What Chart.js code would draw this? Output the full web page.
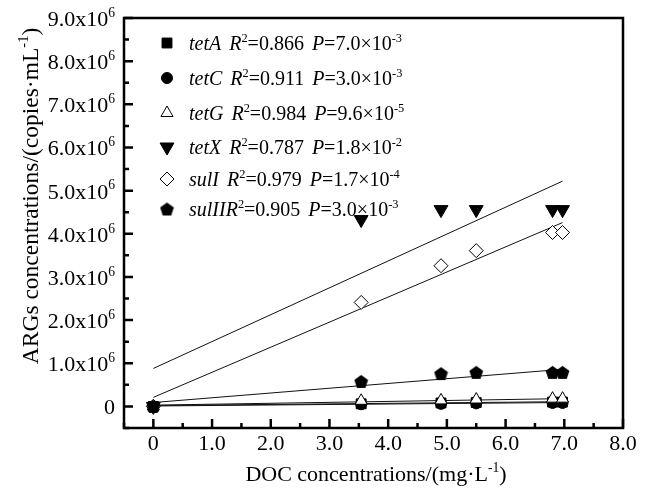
<!DOCTYPE html>
<html>
<head>
<meta charset="utf-8">
<script src="https://cdn.jsdelivr.net/npm/chart.js@4.4.1/dist/chart.umd.min.js"></script>
<style>
  html, body { margin: 0; padding: 0; background: #fff; }
  #wrap { width: 649px; height: 494px; }
</style>
</head>
<body>
<div id="wrap"><canvas id="chart"></canvas></div>
<script>
// DOC concentration (mg/L) of each sample
const DOC = [0, 3.54, 4.9, 5.5, 6.8, 6.97];

// ARG concentrations, in units of 10^6 copies/mL
const TET_A = [0, 0.06, 0.08, 0.09, 0.10, 0.10];
const TET_C = [0, 0.05, 0.06, 0.07, 0.08, 0.08];
const TET_G = [0, 0.13, 0.14, 0.16, 0.18, 0.18];
const TET_X = [0, 4.33, 4.56, 4.56, 4.56, 4.56];
const SUL_I = [0, 2.41, 3.26, 3.61, 4.03, 4.03];
const SUL_II = [0, 0.58, 0.76, 0.79, 0.79, 0.79];

// regression lines, read at their two ends
const FIT_X = [0, 6.97];
const FIT_TET_A = [0.02, 0.11];
const FIT_TET_C = [0.01, 0.09];
const FIT_TET_G = [0.03, 0.18];
const FIT_TET_X = [0.88, 5.22];
const FIT_SUL_I = [0.21, 4.26];
const FIT_SUL_II = [0.09, 0.86];

const GENES = ["tetA", "tetC", "tetG", "tetX", "sulI", "sulII"];
const R2 = ["0.866", "0.911", "0.984", "0.787", "0.979", "0.905"];
const P_MANT = ["7.0", "3.0", "9.6", "1.8", "1.7", "3.0"];
const P_EXP = ["-3", "-3", "-5", "-2", "-4", "-3"];

const X_TICKS = [0, 1, 2, 3, 4, 5, 6, 7, 8];
const X_TICK_LABELS = ["0", "1.0", "2.0", "3.0", "4.0", "5.0", "6.0", "7.0", "8.0"];
const Y_TICKS = [0, 1, 2, 3, 4, 5, 6, 7, 8, 9];
const Y_TICK_LABELS = ["0", "1.0", "2.0", "3.0", "4.0", "5.0", "6.0", "7.0", "8.0", "9.0"];

const SERIF = "'Liberation Serif', 'Times New Roman', serif";

function pentagonImage(size) {
  const c = document.createElement("canvas");
  c.width = size;
  c.height = size;
  const g = c.getContext("2d");
  const r = size / 2 - 0.3;
  g.beginPath();
  for (let i = 0; i < 5; i++) {
    const a = -Math.PI / 2 + (i * 2 * Math.PI) / 5;
    const px = size / 2 + r * Math.cos(a);
    const py = size / 2 + 0.8 + r * Math.sin(a);
    if (i === 0) g.moveTo(px, py);
    else g.lineTo(px, py);
  }
  g.closePath();
  g.fillStyle = "#000";
  g.fill();
  return c;
}
const PENTAGON = pentagonImage(15);

const MARKERS = [
  { pointStyle: "rect", radius: 7, rotation: 0, fill: "#000" },
  { pointStyle: "circle", radius: 5.5, rotation: 0, fill: "#000" },
  { pointStyle: "triangle", radius: 7, rotation: 0, fill: "#fff" },
  { pointStyle: "triangle", radius: 8, rotation: 180, fill: "#000" },
  { pointStyle: "rectRot", radius: 7, rotation: 0, fill: "#fff" },
  { pointStyle: PENTAGON, radius: 7, rotation: 0, fill: "#000" },
];

const SERIES = [TET_A, TET_C, TET_G, TET_X, SUL_I, SUL_II];
const FITS = [FIT_TET_A, FIT_TET_C, FIT_TET_G, FIT_TET_X, FIT_SUL_I, FIT_SUL_II];

const pts = (xs, ys) => xs.map((x, i) => ({ x: x, y: ys[i] }));

const datasets = [];
FITS.forEach((f, i) => {
  datasets.push({
    type: "line",
    label: GENES[i] + " fit",
    data: pts(FIT_X, f),
    borderColor: "#111",
    borderWidth: 1,
    pointRadius: 0,
    order: 10,
  });
});
SERIES.forEach((s, i) => {
  const m = MARKERS[i];
  datasets.push({
    type: "scatter",
    label: GENES[i],
    data: pts(DOC, s),
    pointStyle: m.pointStyle,
    pointRadius: m.radius,
    rotation: m.rotation,
    backgroundColor: m.fill,
    borderColor: "#000",
    borderWidth: 1,
    order: 6 - i,
  });
});

// text with superscripts and italics: parts = [{t, sup, it}]
function richWidth(ctx, parts, fs) {
  let w = 0;
  parts.forEach((p) => {
    const size = p.sup ? fs * 0.62 : fs;
    ctx.font = (p.it ? "italic " : "") + size + "px " + SERIF;
    w += ctx.measureText(p.t).width;
  });
  return w;
}
function drawRich(ctx, parts, x, y, fs) {
  let cx = x;
  parts.forEach((p) => {
    const size = p.sup ? fs * 0.62 : fs;
    ctx.font = (p.it ? "italic " : "") + size + "px " + SERIF;
    ctx.fillText(p.t, cx, p.sup ? y - fs * 0.42 : y);
    cx += ctx.measureText(p.t).width;
  });
  return cx;
}

const framePlugin = {
  id: "frame",
  afterDraw(chart) {
    const ctx = chart.ctx;
    const a = chart.chartArea;
    const xs = chart.scales.x;
    const ys = chart.scales.y;
    ctx.save();
    ctx.fillStyle = "#000";
    ctx.strokeStyle = "#000";
    ctx.textBaseline = "alphabetic";

    // frame
    ctx.lineWidth = 2.5;
    ctx.strokeRect(a.left, a.top, a.right - a.left, a.bottom - a.top);

    // inward ticks, major and half-step minor
    ctx.lineWidth = 2.5;
    ctx.beginPath();
    X_TICKS.forEach((v) => {
      const px = xs.getPixelForValue(v);
      ctx.moveTo(px, a.bottom);
      ctx.lineTo(px, a.bottom - 9);
      const pm = xs.getPixelForValue(v - 0.5);
      ctx.moveTo(pm, a.bottom);
      ctx.lineTo(pm, a.bottom - 5);
    });
    Y_TICKS.forEach((v) => {
      const py = ys.getPixelForValue(v);
      ctx.moveTo(a.left, py);
      ctx.lineTo(a.left + 9, py);
      const pm = ys.getPixelForValue(v - 0.5);
      ctx.moveTo(pm === pm ? a.left : a.left, pm);
      ctx.lineTo(a.left + 5, pm);
    });
    ctx.stroke();

    const fs = 22;
    // x tick labels
    ctx.font = fs + "px " + SERIF;
    ctx.textAlign = "center";
    X_TICKS.forEach((v, i) => {
      ctx.fillText(X_TICK_LABELS[i], xs.getPixelForValue(v), a.bottom + 22);
    });

    // y tick labels
    ctx.textAlign = "left";
    Y_TICKS.forEach((v, i) => {
      const parts = [{ t: Y_TICK_LABELS[i] }];
      if (v !== 0) {
        parts[0].t += "x10";
        parts.push({ t: "6", sup: true });
      }
      const w = richWidth(ctx, parts, fs);
      drawRich(ctx, parts, a.left - 9 - w, ys.getPixelForValue(v) + 8, fs);
    });

    // axis titles
    const xt = [{ t: "DOC concentrations/(mg\u00b7L" }, { t: "-1", sup: true }, { t: ")" }];
    const xw = richWidth(ctx, xt, 22);
    drawRich(ctx, xt, 376 - xw / 2, a.bottom + 53, 22);

    const yt = [{ t: "ARGs concentrations/(copies\u00b7mL" }, { t: "-1", sup: true }, { t: ")" }];
    const yw = richWidth(ctx, yt, 23.5);
    ctx.save();
    ctx.translate(38, 196);
    ctx.rotate(-Math.PI / 2);
    drawRich(ctx, yt, -yw / 2, 0, 23.5);
    ctx.restore();

    // legend inside the plot
    const lfs = 20;
    const rows = [43, 78, 113, 147, 179, 209];
    GENES.forEach((g, i) => {
      const m = MARKERS[i];
      ctx.fillStyle = m.fill;
      ctx.strokeStyle = "#000";
      ctx.lineWidth = 1;
      Chart.helpers.drawPoint(ctx, {
        pointStyle: m.pointStyle,
        radius: m.radius,
        rotation: m.rotation,
        borderWidth: 1,
      }, 167, rows[i]);
      ctx.fillStyle = "#000";
      let x = drawRich(ctx, [{ t: g, it: true }], 189, rows[i] + 7, lfs);
      x += i === 5 ? 0 : 8;
      x = drawRich(ctx, [{ t: "R", it: true }, { t: "2", sup: true }, { t: "=" + R2[i] }], x, rows[i] + 7, lfs);
      x += 8;
      drawRich(ctx, [{ t: "P", it: true }, { t: "=" + P_MANT[i] + "\u00d710" }, { t: P_EXP[i], sup: true }], x, rows[i] + 7, lfs);
    });
    ctx.restore();
  },
};

new Chart(document.getElementById("chart"), {
  data: { datasets: datasets },
  options: {
    responsive: true,
    maintainAspectRatio: false,
    animation: false,
    layout: { padding: { left: 124, right: 26, top: 18, bottom: 66 } },
    plugins: { legend: { display: false }, tooltip: { enabled: false } },
    scales: {
      x: {
        type: "linear",
        min: -0.5,
        max: 8,
        grid: { display: false, drawTicks: false },
        border: { display: false },
        ticks: { display: false },
        afterFit: (s) => { s.height = 0; },
      },
      y: {
        type: "linear",
        min: -0.5,
        max: 9,
        grid: { display: false, drawTicks: false },
        border: { display: false },
        ticks: { display: false },
        afterFit: (s) => { s.width = 0; },
      },
    },
  },
  plugins: [framePlugin],
});
</script>
</body>
</html>
